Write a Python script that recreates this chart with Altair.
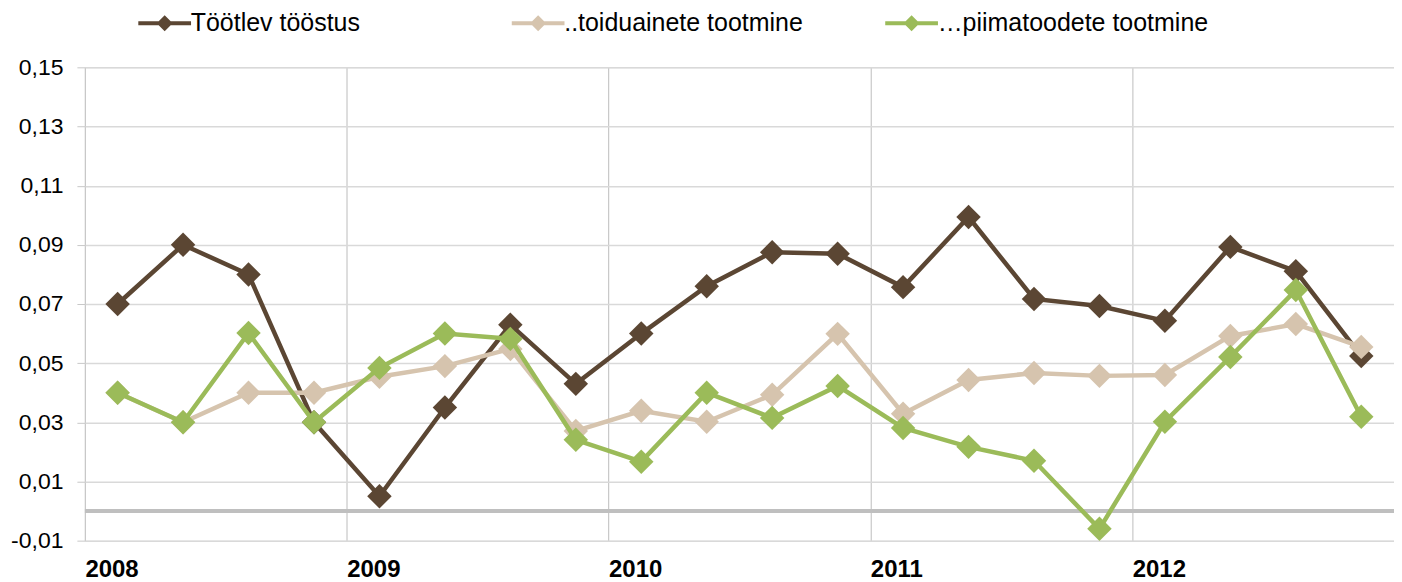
import altair as alt
import pandas as pd

quarters = [f"{y} Q{q}" for y in range(2008, 2013) for q in range(1, 5)]
series_names = ["Töötlev tööstus", "..toiduainete tootmine", "…piimatoodete tootmine"]
tootlev = [0.070, 0.090, 0.080, 0.030, 0.005, 0.035, 0.063, 0.043, 0.060, 0.076,
           0.0875, 0.087, 0.0757, 0.0994, 0.0717, 0.0693, 0.0643, 0.0893, 0.0811, 0.0524]
toidu = [0.040, 0.030, 0.040, 0.040, 0.0454, 0.049, 0.0548, 0.0271, 0.0339, 0.0302,
         0.0393, 0.0599, 0.0329, 0.0443, 0.0467, 0.0457, 0.046, 0.0592, 0.0632, 0.0555]
piima = [0.040, 0.030, 0.0602, 0.030, 0.0484, 0.060, 0.0582, 0.0241, 0.0167, 0.040,
         0.0315, 0.0423, 0.0281, 0.0217, 0.017, -0.006, 0.0302, 0.0521, 0.0747, 0.0319]
colors = ["#5B4633", "#D6C4AE", "#9BBB59"]
y_ticks = [-0.01, 0.01, 0.03, 0.05, 0.07, 0.09, 0.11, 0.13, 0.15]
year_bounds = [-0.5, 3.5, 7.5, 11.5, 15.5]

rows = []
for name, vals in zip(series_names, [tootlev, toidu, piima]):
    for i, (q, v) in enumerate(zip(quarters, vals)):
        rows.append({"s": name, "q": q, "i": i, "v": v})
df = pd.DataFrame(rows)

FONT = "Liberation Sans"
sc = alt.Scale(domain=series_names, range=colors)

x_enc = alt.X("i:Q", scale=alt.Scale(domain=[-0.5, 19.5], nice=False, zero=False),
              axis=alt.Axis(values=year_bounds, grid=True, gridColor="#C8C8C8", gridWidth=1.2,
                            ticks=False, domain=False, labelAlign="left", labelFlush=False,
                            labelExpr="toString(2008 + (datum.value + 0.5) / 4)",
                            labelFont=FONT, labelFontSize=24, labelFontWeight="bold",
                            labelColor="black", labelPadding=17, title=None))
y_enc = alt.Y("v:Q", scale=alt.Scale(domain=[-0.01, 0.15], nice=False, zero=False),
              axis=alt.Axis(values=y_ticks, grid=True, gridColor="#D9D9D9", gridWidth=1.5,
                            tickColor="#C8C8C8", tickSize=8, domain=False,
                            labelExpr="(datum.value < 0 ? '-' : '') + replace(format(abs(datum.value), '.2f'), '.', ',')",
                            labelFont=FONT, labelFontSize=23, labelColor="black",
                            labelPadding=14, title=None))

zero = alt.Chart(pd.DataFrame({"z": [0.0]})).mark_rule(color="#BFBFBF", strokeWidth=4).encode(
    y=alt.Y("z:Q", scale=alt.Scale(domain=[-0.01, 0.15], nice=False, zero=False)))

legend = alt.Legend(
    orient="none", legendX=49, legendY=-57, direction="horizontal", columns=3,
    gridAlign="all", columnPadding=46, title=None,
    labelFont=FONT, labelFontSize=25, labelColor="black", labelOffset=32, labelLimit=500,
    symbolType="M-1,-0.25H5.6V0.25H-1Z M2.3,-1L3.3,0L2.3,1L1.3,0Z",
    symbolSize=256, symbolStrokeWidth=0, symbolOpacity=1)

layers = [zero]
base = alt.Chart(df)
for name, col in zip(series_names, colors):
    sub = base.transform_filter(alt.datum.s == name)
    layers.append(sub.mark_line(strokeWidth=4.5, color=col).encode(x=x_enc, y=y_enc))
    layers.append(sub.mark_point(shape="diamond", filled=True, size=600, opacity=1).encode(
        x=x_enc, y=y_enc, fill=alt.Fill("s:N", scale=sc, legend=legend)))

chart = alt.layer(*layers).properties(
    width=1311, height=474,
    autosize=alt.AutoSizeParams(type="none"),
    padding={"left": 77, "top": 59, "right": 0, "bottom": 41},
).configure_view(stroke="#C8C8C8", strokeWidth=1.2).configure(background="white")

chart.save("out.html", embed_options={"renderer": "svg", "actions": False})
